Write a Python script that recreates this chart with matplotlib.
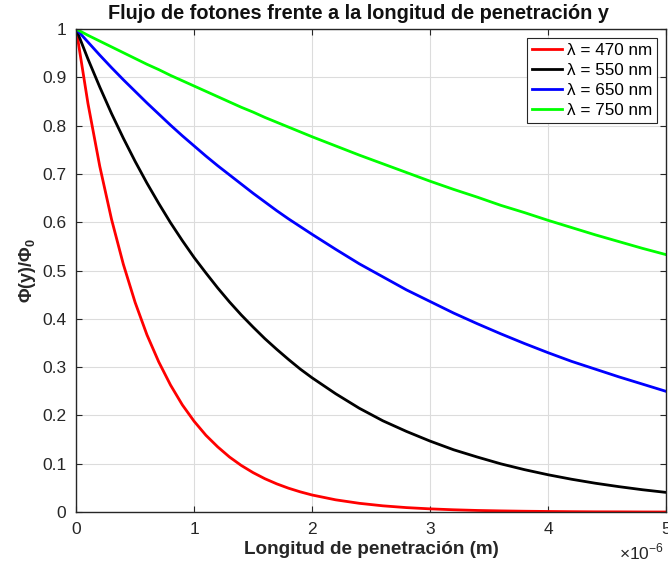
import matplotlib
matplotlib.use('Agg')
from matplotlib import pyplot as plt

plt.rcParams['font.family'] = ['Liberation Sans', 'DejaVu Sans']
plt.rcParams['mathtext.fontset'] = 'custom'
plt.rcParams['mathtext.rm'] = 'Liberation Sans'
plt.rcParams['mathtext.bf'] = 'Liberation Sans:bold'

# penetration depth in micrometres (axis shows x 10^-6 m)
depth_um = [0, 0.1, 0.2, 0.3, 0.4, 0.5, 0.6, 0.7, 0.8, 0.9, 1.0,
            1.1, 1.2, 1.3, 1.4, 1.5, 1.6, 1.7, 1.8, 1.9, 2.0,
            2.2, 2.4, 2.6, 2.8, 3.0, 3.2, 3.4, 3.6, 3.8, 4.0,
            4.2, 4.4, 4.6, 4.8, 5.0]

flux_470 = [1, 0.846, 0.716, 0.606, 0.513, 0.434, 0.367, 0.311, 0.263, 0.222, 0.188,
            0.159, 0.135, 0.114, 0.0965, 0.0817, 0.0691, 0.0585, 0.0495, 0.0419, 0.0354,
            0.0254, 0.0182, 0.0130, 0.0093, 0.0067, 0.0048, 0.0034, 0.0025, 0.0018, 0.0013,
            0.0009, 0.0006, 0.0005, 0.0003, 0.0002]
flux_550 = [1, 0.938, 0.880, 0.825, 0.774, 0.726, 0.681, 0.639, 0.599, 0.562, 0.527,
            0.495, 0.464, 0.435, 0.408, 0.383, 0.359, 0.337, 0.316, 0.296, 0.278,
            0.245, 0.215, 0.189, 0.167, 0.147, 0.129, 0.114, 0.0999, 0.0879, 0.0773,
            0.0680, 0.0598, 0.0527, 0.0463, 0.0408]
flux_650 = [1, 0.973, 0.946, 0.920, 0.895, 0.871, 0.847, 0.824, 0.801, 0.779, 0.758,
            0.737, 0.717, 0.698, 0.679, 0.660, 0.642, 0.624, 0.607, 0.591, 0.575,
            0.544, 0.514, 0.487, 0.460, 0.436, 0.412, 0.390, 0.369, 0.349, 0.330,
            0.312, 0.296, 0.280, 0.265, 0.250]
flux_750 = [1, 0.987, 0.975, 0.963, 0.951, 0.939, 0.927, 0.916, 0.904, 0.893, 0.882,
            0.871, 0.860, 0.849, 0.838, 0.828, 0.817, 0.807, 0.797, 0.787, 0.777,
            0.758, 0.739, 0.721, 0.703, 0.685, 0.668, 0.652, 0.635, 0.620, 0.604,
            0.589, 0.574, 0.560, 0.546, 0.533]

labels = ['λ = 470 nm', 'λ = 550 nm', 'λ = 650 nm', 'λ = 750 nm']
colors = ['#ff0000', '#000000', '#0000ff', '#00ff00']

fig = plt.figure(figsize=(6.68, 5.69), dpi=100)
ax = fig.add_axes([0.114, 0.100, 0.883, 0.849])

for flux, lab, col in zip([flux_470, flux_550, flux_650, flux_750], labels, colors):
    ax.plot(depth_um, flux, color=col, linewidth=2, label=lab)

ax.set_xlim(0, 5)
ax.set_ylim(0, 1)
ax.set_xticks([0, 1, 2, 3, 4, 5])
ax.set_yticks([0, 0.1, 0.2, 0.3, 0.4, 0.5, 0.6, 0.7, 0.8, 0.9, 1])
ax.set_yticklabels(['0', '0.1', '0.2', '0.3', '0.4', '0.5', '0.6', '0.7', '0.8', '0.9', '1'])
ax.grid(True, color='#dcdcdc', linewidth=0.8)
ax.set_axisbelow(True)
ax.tick_params(direction='in', length=4, top=True, right=True, labelsize=12.5,
               colors='#262626', pad=7)
for sp in ax.spines.values():
    sp.set_color('#262626')
    sp.set_linewidth(1.0)

ax.text(0.478, 1.012, 'Flujo de fotones frente a la longitud de penetración y',
        transform=ax.transAxes, ha='center', va='bottom',
        fontsize=14.3, fontweight='bold', color='#111111')
ax.set_xlabel('Longitud de penetración (m)', fontsize=13.6, fontweight='bold',
              labelpad=3, color='#262626')
ax.set_ylabel(r'$\mathbf{\Phi(y)/\Phi_0}$', fontsize=13, labelpad=3, color='#262626')
ax.text(0.997, -0.062, r'$\times10^{-6}$', transform=ax.transAxes, ha='right', va='top',
        fontsize=12.5, color='#262626')

leg = ax.legend(loc='upper right', fontsize=12.3, fancybox=False, framealpha=1,
                edgecolor='#262626', borderpad=0.3, labelspacing=0.3,
                handlelength=1.75, handletextpad=0.3, borderaxespad=0.5)
leg.get_frame().set_linewidth(0.8)

fig.savefig('out.png', dpi=100)
